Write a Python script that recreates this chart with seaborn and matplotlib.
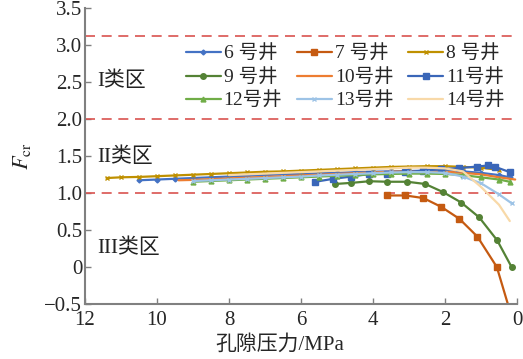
import matplotlib
matplotlib.use("Agg")
import matplotlib.pyplot as plt
import seaborn as sns
import pandas as pd

# 孔隙压力 (MPa) 与 Fcr, 按井读取
p6 = [10.5, 10.0, 9.5, 9.0, 8.5, 8.0, 7.5, 7.0, 6.5, 6.0, 5.5, 5.0, 4.5, 4.0, 3.5, 3.0, 2.5, 2.0, 1.5, 1.0, 0.5, 0.2]
f6 = [1.17, 1.18, 1.19, 1.20, 1.21, 1.22, 1.23, 1.24, 1.25, 1.255, 1.265, 1.27, 1.28, 1.285, 1.29, 1.295, 1.30, 1.30, 1.29, 1.27, 1.24, 1.21]

p7 = [3.6, 3.1, 2.6, 2.1, 1.6, 1.1, 0.56, 0.1]
f7 = [0.965, 0.965, 0.93, 0.81, 0.65, 0.41, 0.0, -0.75]

p8 = [11.4, 11.0, 10.5, 10.0, 9.5, 9.0, 8.5, 8.0, 7.5, 7.0, 6.5, 6.0, 5.5, 5.0, 4.5, 4.0, 3.5, 3.0, 2.5, 2.0, 1.5, 1.0, 0.5]
f8 = [1.20, 1.21, 1.215, 1.225, 1.235, 1.245, 1.255, 1.265, 1.275, 1.285, 1.29, 1.30, 1.31, 1.32, 1.33, 1.34, 1.35, 1.355, 1.36, 1.36, 1.35, 1.34, 1.31]

p9 = [5.05, 4.6, 4.1, 3.6, 3.05, 2.55, 2.05, 1.55, 1.05, 0.55, 0.15]
f9 = [1.12, 1.135, 1.157, 1.15, 1.15, 1.12, 1.01, 0.87, 0.67, 0.36, 0.0]

p10 = [9.4, 9.0, 8.5, 8.0, 7.5, 7.0, 6.5, 6.0, 5.5, 5.0, 4.5, 4.0, 3.5, 3.0, 2.5, 2.0, 1.5, 1.0, 0.5, 0.05]
f10 = [1.17, 1.175, 1.185, 1.195, 1.205, 1.215, 1.225, 1.235, 1.245, 1.255, 1.265, 1.275, 1.285, 1.29, 1.29, 1.285, 1.27, 1.25, 1.21, 1.18]

p11 = [5.6, 5.1, 4.6, 4.1, 3.6, 3.1, 2.6, 2.1, 1.6, 1.1, 0.8, 0.6, 0.2]
f11 = [1.15, 1.19, 1.22, 1.255, 1.26, 1.28, 1.30, 1.32, 1.335, 1.355, 1.37, 1.35, 1.28]

p12 = [9.0, 8.5, 8.0, 7.5, 7.0, 6.5, 6.0, 5.5, 5.0, 4.5, 4.0, 3.5, 3.0, 2.5, 2.0, 1.5, 1.0, 0.5, 0.2]
f12 = [1.15, 1.16, 1.17, 1.18, 1.19, 1.20, 1.21, 1.22, 1.23, 1.24, 1.25, 1.255, 1.26, 1.26, 1.255, 1.24, 1.21, 1.18, 1.15]

p13 = [9.0, 8.5, 8.0, 7.5, 7.0, 6.5, 6.0, 5.5, 5.0, 4.5, 4.0, 3.5, 3.0, 2.5, 2.0, 1.5, 1.0, 0.5, 0.15]
f13 = [1.16, 1.17, 1.18, 1.19, 1.20, 1.21, 1.22, 1.235, 1.245, 1.255, 1.265, 1.275, 1.28, 1.28, 1.27, 1.22, 1.13, 0.98, 0.86]

p14 = [8.0, 7.5, 7.0, 6.5, 6.0, 5.5, 5.0, 4.5, 4.0, 3.5, 3.0, 2.5, 2.0, 1.5, 1.0, 0.5, 0.2]
f14 = [1.24, 1.25, 1.26, 1.27, 1.28, 1.29, 1.30, 1.31, 1.32, 1.33, 1.34, 1.34, 1.33, 1.29, 1.08, 0.84, 0.62]

wells = ["6 号井", "7 号井", "8 号井", "9 号井", "10号井", "11号井", "12号井", "13号井", "14号井"]
pressures = [p6, p7, p8, p9, p10, p11, p12, p13, p14]
fcr = [f6, f7, f8, f9, f10, f11, f12, f13, f14]

zone_lines = [3.12, 2.0, 1.0]
zone_labels = ["I类区", "II类区", "III类区"]
zone_label_y = [2.5, 1.48, 0.25]

colors = ["#4472C4", "#C55A11", "#BF9000", "#548235", "#ED7D31",
          "#3A66B8", "#70AD47", "#9DC3E6", "#F8D9A8"]
markers = ["D", "s", "x", "o", None, "s", "^", "x", None]
msizes = [2.5, 4, 3.5, 4, 0, 4.5, 3.5, 3.5, 0]

sns.set_theme(style="ticks")
plt.rcParams["font.family"] = ["Liberation Serif", "Noto Sans CJK SC"]
plt.rcParams["mathtext.fontset"] = "stix"

fig = plt.figure(figsize=(5.23, 3.59), dpi=100)
ax = fig.add_axes([0.1625, 0.153, 0.826, 0.826])

for y in zone_lines:
    ax.axhline(y, color="#D9534F", lw=1.2, ls=(0, (6, 4)), zorder=1)

handles = []
for name, p, f, c, m, ms in zip(wells, pressures, fcr, colors, markers, msizes):
    df = pd.DataFrame({"p": p, "f": f})
    sns.lineplot(data=df, x="p", y="f", sort=False, ax=ax, color=c, lw=1.6,
                 marker=m, markersize=ms, markeredgecolor=c, markeredgewidth=1,
                 label=name, legend=False)
    handles.append(ax.lines[-1])

for lab, y in zip(zone_labels, zone_label_y):
    ax.text(11.65, y, lab, fontsize=15, va="center", ha="left", color="#222222")

ax.set_xlim(12, 0)
ax.set_ylim(-0.5, 3.5)
ax.set_xticks([12, 10, 8, 6, 4, 2, 0])
ax.set_yticks([-0.5, 0, 0.5, 1.0, 1.5, 2.0, 2.5, 3.0, 3.5])
ax.set_yticklabels(["−0.5", "0", "0.5", "1.0", "1.5", "2.0", "2.5", "3.0", "3.5"])
ax.tick_params(direction="in", length=4, width=1, color="#808080", labelsize=15)
ax.tick_params(axis="x", pad=5)
ax.tick_params(axis="y", pad=2)
for s in ["top", "right"]:
    ax.spines[s].set_visible(False)
for s in ["left", "bottom"]:
    ax.spines[s].set_color("#808080")
    ax.spines[s].set_linewidth(1.5)

ax.set_xlabel("孔隙压力/MPa", fontsize=15)
ax.xaxis.set_label_coords(0.45, -0.105)
ax.set_ylabel(r"$F_{\mathrm{cr}}$", fontsize=16, labelpad=8)

order = [0, 3, 6, 1, 4, 7, 2, 5, 8]
ax.legend([handles[i] for i in order], [wells[i] for i in order], ncol=3,
          loc="upper left", bbox_to_anchor=(0.215, 0.90), frameon=False,
          fontsize=14, handlelength=1.8, handletextpad=0.15, columnspacing=0.75,
          labelspacing=0.28, borderaxespad=0)

fig.savefig("out.png", dpi=100)
